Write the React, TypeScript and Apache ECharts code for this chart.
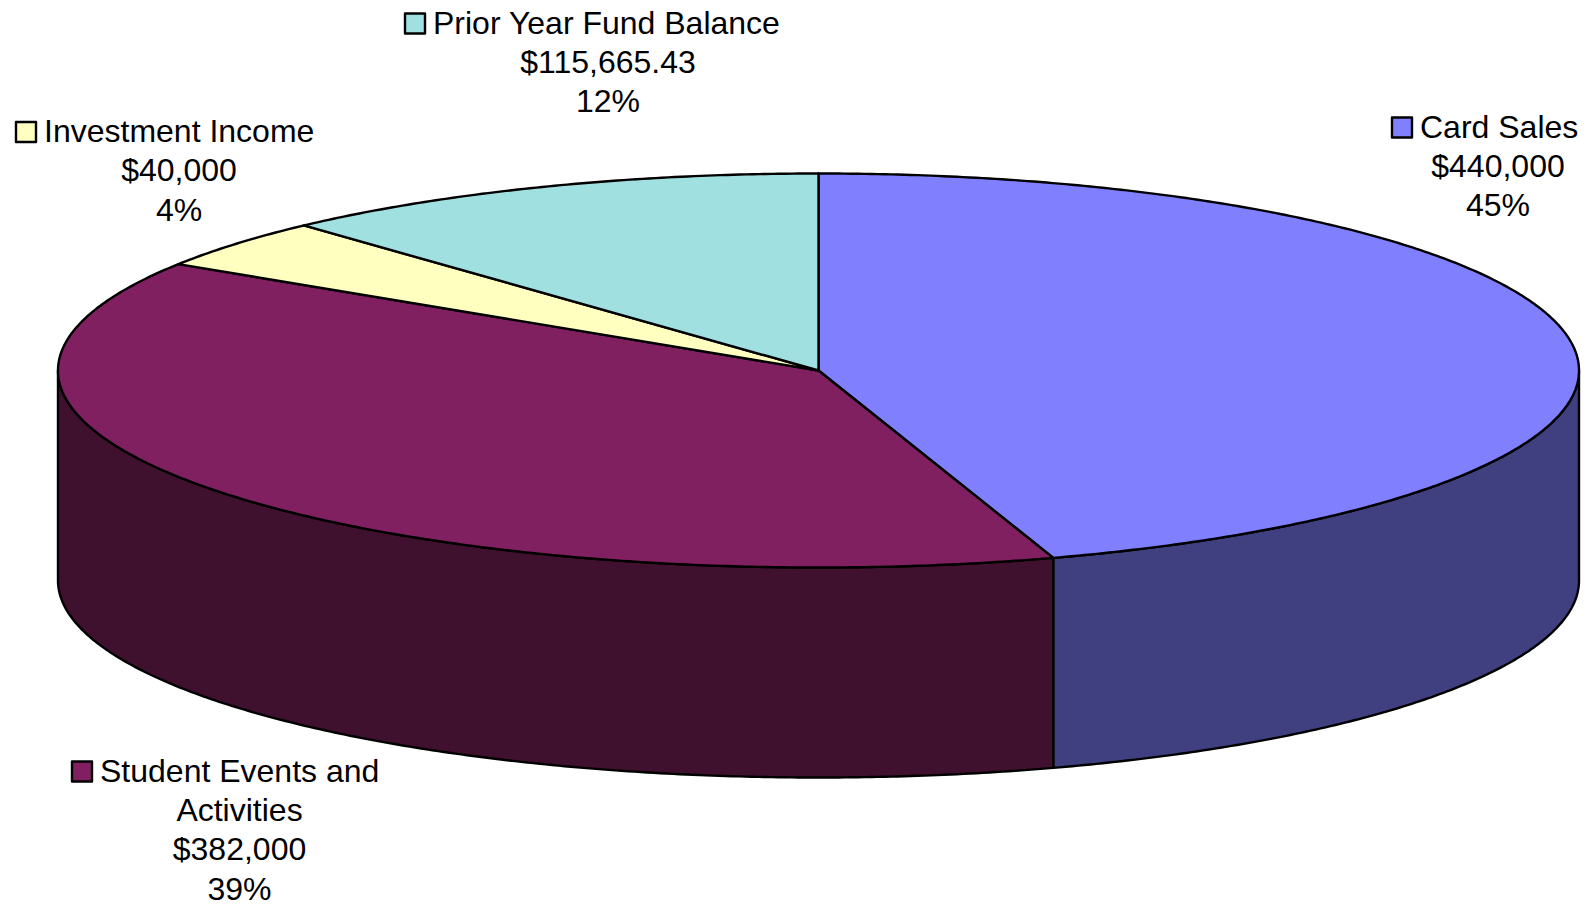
import React, { useEffect, useRef } from "react";
import * as echarts from "echarts";

// Fund sources, clockwise from twelve o'clock
const categories = ["Card Sales", "Student Events and\nActivities", "Investment Income", "Prior Year Fund Balance"];
const values = [440000, 382000, 40000, 115665.43];

const topColors = ["#8080FF", "#802060", "#FFFFC0", "#A0E0E0"];
const sideColors = ["#404080", "#40102F", "#808060", "#507070"];

// Flattened disc geometry
const disc = { cx: 818.5, cy: 370.5, rx: 760.5, ry: 197, depth: 210 };

// Callout placement: centre of the text block, baseline of its first line, legend key box
const callouts = [
  { centerX: 1498, baseline: 137.5, keyX: 1392, textX: 1420 },
  { centerX: 239.5, baseline: 781.5, keyX: 72, textX: 100 },
  { centerX: 179, baseline: 142, keyX: 16, textX: 44 },
  { centerX: 608, baseline: 33.5, keyX: 405, textX: 433 },
];

const FONT = '32px "Liberation Sans", Arial, sans-serif';
const LINE_HEIGHT = 39.4;
const KEY_SIZE = 20;
const total = values.reduce((a, b) => a + b, 0);

const pointAt = (deg: number, drop = 0): number[] => {
  const r = (deg * Math.PI) / 180;
  return [disc.cx + disc.rx * Math.sin(r), disc.cy - disc.ry * Math.cos(r) + drop];
};

const arcPoints = (from: number, to: number, drop = 0): number[][] => {
  const steps = Math.max(2, Math.ceil(Math.abs(to - from) * 2));
  const pts: number[][] = [];
  for (let i = 0; i <= steps; i++) pts.push(pointAt(from + ((to - from) * i) / steps, drop));
  return pts;
};

const formatMoney = (v: number) =>
  "$" + v.toLocaleString("en-US", { minimumFractionDigits: Number.isInteger(v) ? 0 : 2, maximumFractionDigits: 2 });

const outline = { stroke: "#000", lineWidth: 2.4, lineJoin: "round" };

function renderSlice(params: any, api: any) {
  const i = params.dataIndex;
  const before = values.slice(0, i).reduce((a, b) => a + b, 0);
  const start = (before / total) * 360;
  const end = start + (api.value(0) / total) * 360;
  const children: any[] = [];

  // Wall of the disc, only on the front half (90 to 270 degrees clockwise from the top)
  const wallFrom = Math.max(start, 90);
  const wallTo = Math.min(end, 270);
  if (wallTo > wallFrom) {
    children.push({
      type: "polygon",
      shape: { points: [...arcPoints(wallFrom, wallTo), ...arcPoints(wallTo, wallFrom, disc.depth)] },
      style: { fill: sideColors[i], ...outline },
    });
  }

  children.push({
    type: "polygon",
    z2: 2,
    shape: { points: [[disc.cx, disc.cy], ...arcPoints(start, end)] },
    style: { fill: topColors[i], ...outline },
  });

  // Callout: key box, name, amount and share
  const c = callouts[i];
  const lines = [...categories[i].split("\n"), formatMoney(api.value(0)), `${Math.round((api.value(0) / total) * 100)}%`];
  children.push({
    type: "rect",
    z2: 3,
    shape: { x: c.keyX, y: c.baseline - KEY_SIZE, width: KEY_SIZE, height: KEY_SIZE },
    style: { fill: topColors[i], ...outline },
  });
  lines.forEach((text, n) => {
    const y = c.baseline + n * LINE_HEIGHT - 11;
    children.push({
      type: "text",
      z2: 3,
      style:
        n === 0
          ? { text, x: c.textX, y, font: FONT, fill: "#000", align: "left", verticalAlign: "middle" }
          : { text, x: c.centerX, y, font: FONT, fill: "#000", align: "center", verticalAlign: "middle" },
    });
  });

  return { type: "group", children };
}

export default function App() {
  const ref = useRef<HTMLDivElement>(null);

  useEffect(() => {
    document.body.style.margin = "0";
    const chart = echarts.init(ref.current!, null, { renderer: "svg" });
    chart.setOption({
      animation: false,
      backgroundColor: "#fff",
      series: [
        {
          type: "custom",
          coordinateSystem: "none",
          silent: true,
          data: values.map((v) => [v]),
          renderItem: renderSlice,
        },
      ],
    });
    return () => chart.dispose();
  }, []);

  return <div ref={ref} style={{ width: 1590, height: 906 }} />;
}
